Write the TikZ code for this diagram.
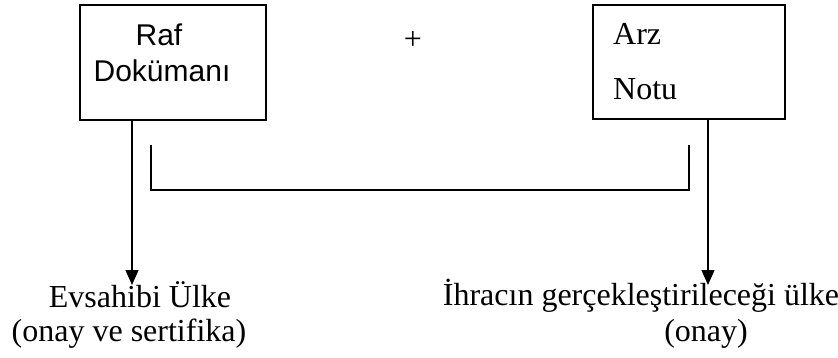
\documentclass[tikz,border=0pt]{standalone}
\usepackage{fontspec}
\setmainfont{Liberation Serif}
\newfontfamily\arialfont{Liberation Sans}
\usetikzlibrary{arrows.meta}
\tikzset{
  boxshape/.style={draw, line width=1.6pt, rectangle, inner sep=0pt},
  serif32/.style={font=\fontsize{32}{35}\selectfont, inner sep=0pt, anchor=base},
  sans30/.style={font=\arialfont\fontsize{30}{34}\selectfont, inner sep=0pt, anchor=base},
  arrowline/.style={line width=1.4pt, -{Triangle[length=15pt,width=13pt]}},
  bracketline/.style={line width=1.8pt}
}
\begin{document}
\begin{tikzpicture}[x=1pt,y=-1pt]
\useasboundingbox (0,0) rectangle (838,358);
% boxes
\node[boxshape, minimum width=186pt, minimum height=115pt] (box1) at (173,62.5) {};
\node[boxshape, minimum width=192pt, minimum height=114pt] (box2) at (689,62) {};
% box texts
\node[sans30] (raf) at (159,46) {Raf};
\node[sans30] (dok) at (162,82) {Dokümanı};
\node[serif32, anchor=base west] (arz) at (613,45) {Arz};
\node[serif32, anchor=base west] (notu) at (613,100) {Notu};
% plus
\node[font=\fontsize{32}{35}\selectfont, inner sep=0pt] (plus) at (413,40) {+};
% bracket
\coordinate (bl1) at (151,145);
\coordinate (bl2) at (689,145);
\coordinate (bb) at (420,190);
\draw[bracketline] (bl1) |- (bb) -| (bl2);
% arrows
\coordinate (tipL) at (132,285);
\coordinate (tipR) at (708,285);
\draw[arrowline] (box1.south -| tipL) -- (tipL);
\draw[arrowline] (box2.south -| tipR) -- (tipR);
% labels
\node[serif32] (ev) at (140,307) {Evsahibi Ülke};
\node[serif32] (evs) at (129,341) {(onay ve sertifika)};
\node[serif32] (ih) at (641,305) {İhracın gerçekleştirileceği ülke};
\node[serif32] (ihs) at (706,341) {(onay)};
\end{tikzpicture}
\end{document}
